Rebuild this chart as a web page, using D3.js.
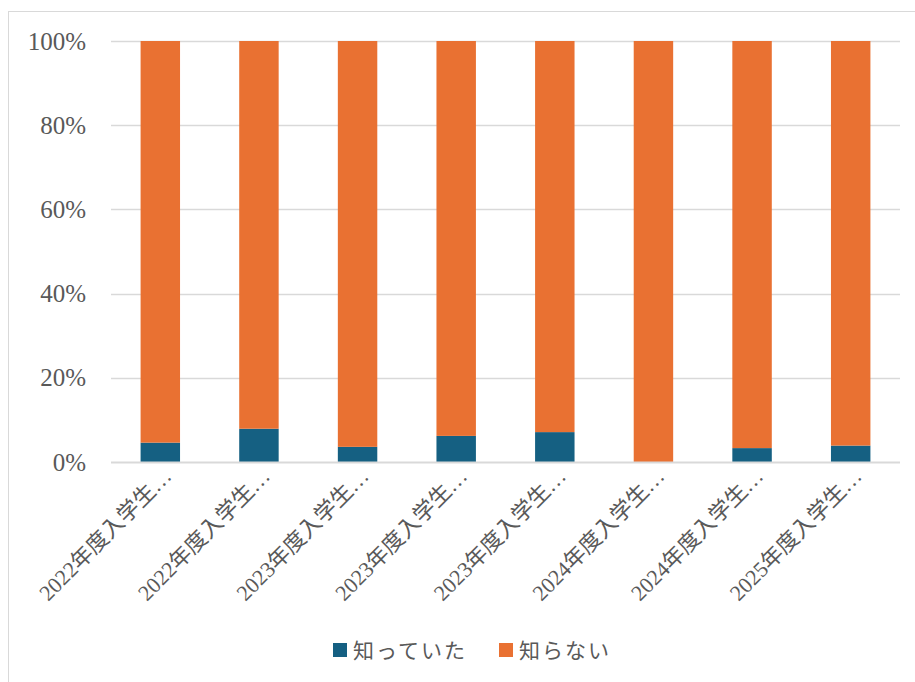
<!DOCTYPE html>
<html>
<head>
<meta charset="utf-8">
<script src="https://cdn.jsdelivr.net/npm/d3@7"></script>
<style>
  html, body { margin: 0; padding: 0; background: #fff; }
  svg { display: block; }
  .lbl { font-family: "Liberation Serif", "DejaVu Serif", "Noto Sans CJK JP", serif; fill: #595959; }
</style>
</head>
<body>
<svg id="chart" width="915" height="682"></svg>
<script>
// Category labels (as shown, truncated) and the share of each answer per cohort
const categories = [
  "2022年度入学生…", "2022年度入学生…", "2023年度入学生…", "2023年度入学生…",
  "2023年度入学生…", "2024年度入学生…", "2024年度入学生…", "2025年度入学生…"
];
const knew    = [0.046, 0.079, 0.036, 0.062, 0.071, 0.0, 0.033, 0.039];
const notKnew = knew.map(v => 1 - v);
const seriesNames  = ["知っていた", "知らない"];
const seriesColors = ["#156082", "#E97132"];
const yTicks = [0, 0.2, 0.4, 0.6, 0.8, 1.0];

const svg = d3.select("#chart");
const gridColor = "#d9d9d9";

// Outer chart frame
svg.append("rect")
  .attr("x", 8.5).attr("y", 11.5)
  .attr("width", 920).attr("height", 690)
  .attr("fill", "#fff").attr("stroke", gridColor).attr("stroke-width", 1);

const plot = { left: 111, right: 900, top: 41, bottom: 462 };

const x = d3.scaleBand()
  .domain(d3.range(categories.length))
  .range([plot.left, plot.right])
  .paddingInner(0.6)
  .paddingOuter(0.3);

const y = d3.scaleLinear().domain([0, 1]).range([plot.bottom, plot.top]);

// Horizontal gridlines
svg.append("g").selectAll("line")
  .data(yTicks.filter(t => t > 0))
  .join("line")
  .attr("x1", plot.left).attr("x2", plot.right)
  .attr("y1", d => Math.round(y(d)) + 0.5).attr("y2", d => Math.round(y(d)) + 0.5)
  .attr("stroke", gridColor).attr("stroke-width", 1.3);

// Y axis tick labels
const yAxis = d3.axisLeft(y).tickValues(yTicks).tickFormat(d3.format(".0%")).tickSize(0).tickPadding(25);
const yG = svg.append("g").attr("transform", `translate(${plot.left},0)`).call(yAxis)
  .attr("font-family", null).attr("font-size", null);
yG.select(".domain").remove();
yG.selectAll("text")
  .attr("class", "lbl")
  .style("font-size", "25px")
  .attr("fill", null);

// Stacked bars
const stackData = categories.map((c, i) => ({ i, knew: knew[i], notKnew: notKnew[i] }));
const stack = d3.stack().keys(["knew", "notKnew"]);
const layers = stack(stackData);

svg.append("g").selectAll("g")
  .data(layers)
  .join("g")
  .attr("fill", (d, k) => seriesColors[k])
  .selectAll("rect")
  .data(d => d)
  .join("rect")
  .attr("x", d => x(d.data.i))
  .attr("width", x.bandwidth())
  .attr("y", d => y(d[1]))
  .attr("height", d => y(d[0]) - y(d[1]));

// Category axis line
svg.append("line")
  .attr("x1", plot.left).attr("x2", plot.right)
  .attr("y1", plot.bottom + 0.5).attr("y2", plot.bottom + 0.5)
  .attr("stroke", gridColor).attr("stroke-width", 2);

// Rotated category labels
svg.append("g").selectAll("text")
  .data(categories)
  .join("text")
  .attr("class", "lbl")
  .attr("transform", (d, i) => `translate(${x(i) + x.bandwidth() / 2},${plot.bottom + 3}) rotate(-45)`)
  .attr("dy", "0.8em")
  .attr("text-anchor", "end")
  .style("font-size", "22px")
  .text(d => d);

// Legend
const legendItems = [
  { name: seriesNames[0], color: seriesColors[0], x: 333 },
  { name: seriesNames[1], color: seriesColors[1], x: 499 }
];
const lg = svg.append("g").selectAll("g").data(legendItems).join("g")
  .attr("transform", d => `translate(${d.x},643)`);
lg.append("rect").attr("width", 14).attr("height", 14).attr("fill", d => d.color);
lg.append("text")
  .attr("class", "lbl")
  .attr("x", 20).attr("y", 7).attr("dy", "0.36em")
  .style("font-size", "21px")
  .attr("letter-spacing", 2)
  .text(d => d.name);
</script>
</body>
</html>
